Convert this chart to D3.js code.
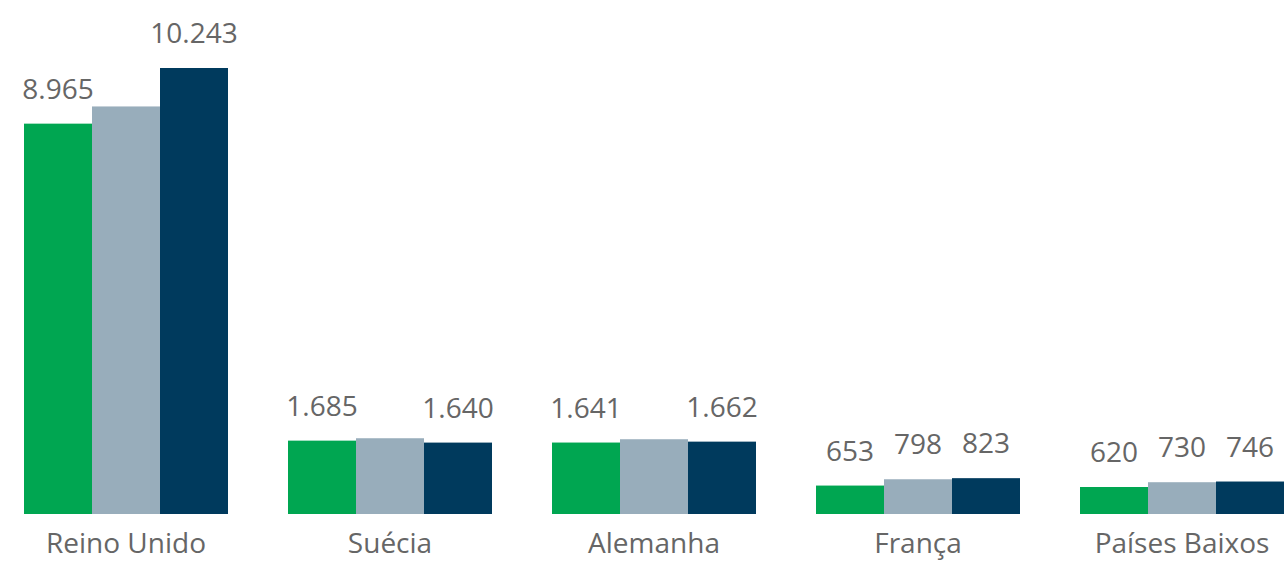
<!DOCTYPE html>
<html><head><meta charset="utf-8">
<script src="https://cdn.jsdelivr.net/npm/d3@7"></script>
<style>html,body{margin:0;padding:0;background:#fff;overflow:hidden}</style>
</head><body><svg id="c" width="1284" height="561"></svg>
<script>
const categories = ["Reino Unido","Suécia","Alemanha","França","Países Baixos"];
const series1 = [8965, 1685, 1641, 653, 620];
const series2 = [9360, 1740, 1717, 798, 730];
const series3 = [10243, 1640, 1662, 823, 746];
const showLabel2 = [false, false, false, true, true];
const colors = ["#00A651", "#98ADBB", "#003A5D"];
const fmtN = v => { const s = String(v); return s.length > 3 ? s.slice(0, s.length-3) + "." + s.slice(-3) : s; };

const svg = d3.select("#c");
const x0 = d3.scaleBand().domain(categories).range([-6, 1314]).paddingInner(60/264).paddingOuter(30/264);
const x1 = d3.scaleBand().domain([0,1,2]).range([0, x0.bandwidth()]);
const y = d3.scaleLinear().domain([0, 10243]).range([514, 68]);
const seriesAll = [series1, series2, series3];

const g = svg.selectAll("g.cat").data(categories).join("g").attr("transform", d => `translate(${x0(d)},0)`);
seriesAll.forEach((s, si) => {
  g.append("rect")
    .attr("x", x1(si)).attr("width", x1.bandwidth())
    .attr("y", (d,i) => y(s[i])).attr("height", (d,i) => y(0) - y(s[i]))
    .attr("fill", colors[si]);
  g.filter((d,i) => si !== 1 || showLabel2[i]).append("text")
    .attr("x", x1(si) + x1.bandwidth()/2)
    .attr("y", d => y(s[categories.indexOf(d)]) - 25)
    .attr("text-anchor", "middle")
    .attr("font-family", "'Open Sans', sans-serif").attr("font-size", 28)
    .attr("fill", "#666")
    .text(d => fmtN(s[categories.indexOf(d)]));
});

const xAxis = d3.axisBottom(x0).tickSize(0).tickPadding(0);
const ax = svg.append("g").attr("transform", "translate(0,553)").call(xAxis);
ax.select(".domain").remove();
ax.selectAll("text").attr("font-family", "'Open Sans', sans-serif").attr("font-size", 28)
  .attr("fill", "#666").attr("y", 0).attr("dy", "0");
</script></body></html>
